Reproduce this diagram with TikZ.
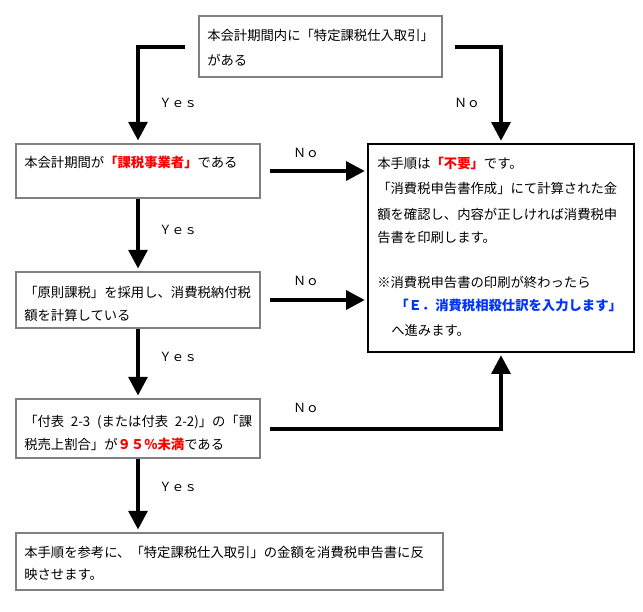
\documentclass[tikz,border=0pt]{standalone}
\usepackage{fontspec}
\setmainfont{Noto Sans CJK JP}
\usetikzlibrary{arrows.meta,fit}
\definecolor{jred}{RGB}{255,0,0}
\definecolor{jblue}{RGB}{0,51,255}
\definecolor{boxgray}{RGB}{128,128,128}
\newcommand\hsp{\hspace{0.5em}}
\begin{document}
\begin{tikzpicture}[x=0.75pt,y=-0.75pt,
  box/.style={draw=boxgray, line width=1.2pt, inner sep=0pt},
  rbox/.style={draw=black, line width=0.8pt, inner sep=0pt},
  ln/.style={anchor=base west, inner sep=0pt, font=\fontsize{10pt}{12pt}\selectfont},
  lab/.style={inner sep=0pt, font=\fontsize{9.5pt}{11pt}\selectfont},
  arr/.style={line width=3pt, -{Triangle[length=14pt,width=14pt]}, shorten >=2pt}]
\fill[white] (0,0) rectangle (643,611);
\useasboundingbox (0,0) rectangle (643,611);

% boxes
\node[box, fit={(199,16) (442,77)}] (t) {};
\node[box, fit={(16,144) (260,198)}] (b2) {};
\node[box, fit={(16,272) (260,328)}] (b3) {};
\node[box, fit={(16,399) (260,458)}] (b4) {};
\node[box, fit={(16,533) (443,590)}] (b5) {};
\node[rbox, fit={(368,144) (634,352)}] (r) {};

% texts
\node[ln] (t1) at (207,40) {本会計期間内に「特定課税仕入取引」};
\node[ln] (t2) at (207,65) {がある};

\node[ln] (b2a) at (24,167) {本会計期間が{\bfseries\color{jred}「課税事業者」}である};

\node[ln] (b3a) at (24,297) {「原則課税」を採用し、消費税納付税};
\node[ln] (b3b) at (24,320) {額を計算している};

\node[ln] (b4a) at (24,426) {「付表\hsp 2-3\hsp(または付表\hsp 2-2)」の「課};
\node[ln] (b4b) at (24,449) {税売上割合」が{\bfseries\color{jred}９５％未満}である};

\node[ln] (b5a) at (24,557) {本手順を参考に、「特定課税仕入取引」の金額を消費税申告書に反};
\node[ln] (b5b) at (24,579) {映させます。};

\node[ln] (r1) at (377,168) {本手順は{\bfseries\color{jred}「不要」}です。};
\node[ln] (r2) at (377,193) {「消費税申告書作成」にて計算された金};
\node[ln] (r3) at (377,219) {額を確認し、内容が正しければ消費税申};
\node[ln] (r4) at (377,242) {告書を印刷します。};
\node[ln] (r5) at (377,287) {※消費税申告書の印刷が終わったら};
\node[ln] (r6) at (395,310) {{\bfseries\color{jblue}「Ｅ．消費税相殺仕訳を入力します」}};
\node[ln] (r7) at (391,335) {へ進みます。};

% labels
\node[lab] (y1) at (178,103) {Ｙｅｓ};
\node[lab] (y2) at (178,230) {Ｙｅｓ};
\node[lab] (y3) at (178,357) {Ｙｅｓ};
\node[lab] (y4) at (178,487) {Ｙｅｓ};
\node[lab] (n1) at (467,103) {Ｎｏ};
\node[lab] (n2) at (306,153) {Ｎｏ};
\node[lab] (n3) at (306,281) {Ｎｏ};
\node[lab] (n4) at (306,408) {Ｎｏ};

% connectors
\draw[arr] ([xshift=-10pt]t.west) -| (b2.north);
\draw[arr] ([xshift=9pt]t.east) -| (r.north);
\draw[arr] ([xshift=7pt]b2.east) -- (b2.east -| r.west);
\draw[arr] ([xshift=7pt]b3.east) -- (b3.east -| r.west);
\draw[arr] ([xshift=7pt]b4.east) -| (r.south);
\draw[arr] (b2.south) -- (b3.north);
\draw[arr] (b3.south) -- (b4.north);
\draw[arr] (b4.south) -- (b4.south |- b5.north);
\end{tikzpicture}
\end{document}
